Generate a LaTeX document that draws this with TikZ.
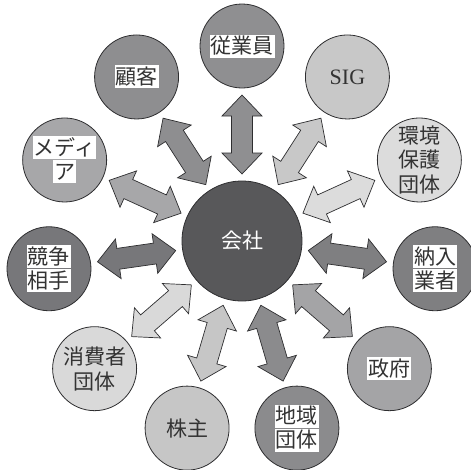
\documentclass[tikz,border=0pt]{standalone}
\usepackage{fontspec}
\usetikzlibrary{calc}
\newfontfamily\jp{Noto Sans CJK JP}
\newfontfamily\sigfont{Liberation Serif}
\definecolor{outl}{HTML}{2E2E30}
\definecolor{txt}{HTML}{333333}
\definecolor{hubc}{HTML}{58585A}
\definecolor{cEmp}{HTML}{8F8F91}
\definecolor{cCus}{HTML}{8E8E90}
\definecolor{cMed}{HTML}{A7A7A9}
\definecolor{cCom}{HTML}{77777A}
\definecolor{cCon}{HTML}{D9D9D9}
\definecolor{cSha}{HTML}{C6C6C6}
\definecolor{cLoc}{HTML}{8B8B8D}
\definecolor{cGov}{HTML}{A4A4A6}
\definecolor{cSup}{HTML}{7F7F81}
\definecolor{cEnv}{HTML}{DCDCDC}
\definecolor{cSig}{HTML}{C8C8C8}
\newcommand\wb[1]{{\setlength\fboxsep{1pt}\colorbox{white}{\vrule height 0.86em depth 0.14em width 0pt\relax #1}}}
\newcommand\linkarrow[3]{%
  \filldraw[link, fill=#3]
    ($(#1.center)!67pt!(#2.center)$)
    -- ($(#1.center)!88pt!(#2.center)!20pt!90:(#2.center)$)
    -- ($(#1.center)!88pt!(#2.center)!10.5pt!90:(#2.center)$)
    -- ($(#1.center)!125pt!(#2.center)!10.5pt!90:(#2.center)$)
    -- ($(#1.center)!125pt!(#2.center)!20pt!90:(#2.center)$)
    -- ($(#1.center)!146pt!(#2.center)$)
    -- ($(#1.center)!125pt!(#2.center)!20pt!-90:(#2.center)$)
    -- ($(#1.center)!125pt!(#2.center)!10.5pt!-90:(#2.center)$)
    -- ($(#1.center)!88pt!(#2.center)!10.5pt!-90:(#2.center)$)
    -- ($(#1.center)!88pt!(#2.center)!20pt!-90:(#2.center)$)
    -- cycle;}
\tikzset{
  party/.style={circle, draw=outl, line width=0.8pt, minimum size=84pt, inner sep=0pt,
    font=\jp\fontsize{21}{24}\selectfont, align=center, text=txt},
  hub/.style={circle, draw=outl, line width=0.8pt, fill=hubc, minimum size=120pt, inner sep=0pt,
    font=\jp\fontsize{21}{24}\selectfont, text=white},
  link/.style={draw=outl, line width=0.7pt, line join=miter}
}
\begin{document}
\begin{tikzpicture}[x=1pt,y=1pt]
\useasboundingbox (0,0) rectangle (471,-469);
\node[hub] (hub) at (242,-241) {会社};
\node[party, fill=cEmp] (emp) at ($(hub.center)+(90:195)$) {\wb{従業員}};
\node[party, fill=cSig, font=\sigfont\fontsize{22}{24}\selectfont] (sig) at ($(hub.center)+(57.27:195)$) {SIG};
\node[party, fill=cEnv, font=\jp\fontsize{21}{24.5}\selectfont] (env) at ($(hub.center)+(24.55:195)$) {環境\\保護\\団体};
\node[party, fill=cSup] (sup) at ($(hub.center)+(-8.18:195)$) {\wb{納入}\\\wb{業者}};
\node[party, fill=cGov] (gov) at ($(hub.center)+(-40.9:195)$) {\wb{政府}};
\node[party, fill=cLoc] (loc) at ($(hub.center)+(-73.64:195)$) {\wb{地域}\\\wb{団体}};
\node[party, fill=cSha] (sha) at ($(hub.center)+(-106.36:195)$) {株主};
\node[party, fill=cCon, font=\jp\fontsize{21}{25}\selectfont] (con) at ($(hub.center)+(-139.1:195)$) {消費者\\団体};
\node[party, fill=cCom] (com) at ($(hub.center)+(-171.82:195)$) {\wb{競争}\\\wb{相手}};
\node[party, fill=cMed] (med) at ($(hub.center)+(155.45:195)$) {\wb{メディ}\\\wb{ア}};
\node[party, fill=cCus] (cus) at ($(hub.center)+(122.73:195)$) {\wb{顧客}};
\linkarrow{hub}{emp}{cEmp}
\linkarrow{hub}{sig}{cSig}
\linkarrow{hub}{env}{cEnv}
\linkarrow{hub}{sup}{cSup}
\linkarrow{hub}{gov}{cGov}
\linkarrow{hub}{loc}{cLoc}
\linkarrow{hub}{sha}{cSha}
\linkarrow{hub}{con}{cCon}
\linkarrow{hub}{com}{cCom}
\linkarrow{hub}{med}{cMed}
\linkarrow{hub}{cus}{cCus}
\end{tikzpicture}
\end{document}
